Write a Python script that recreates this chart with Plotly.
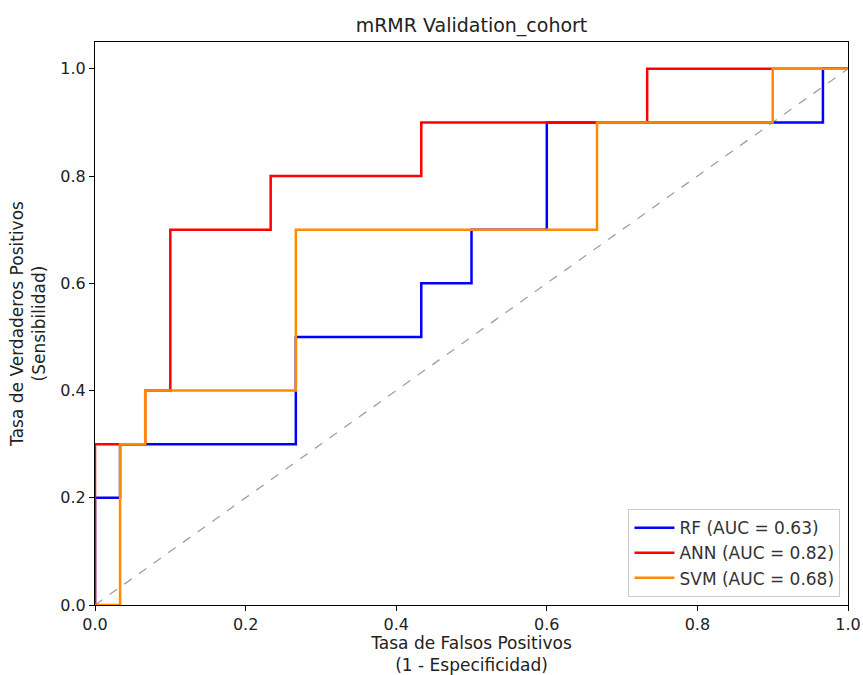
import plotly.graph_objects as go

# ROC step curves (FPR, TPR)
rf_fpr = [0, 0, 0.0333, 0.0333, 0.2667, 0.2667, 0.4333, 0.4333, 0.5, 0.5, 0.6, 0.6, 0.9667, 0.9667, 1.0]
rf_tpr = [0, 0.2, 0.2, 0.3, 0.3, 0.5, 0.5, 0.6, 0.6, 0.7, 0.7, 0.9, 0.9, 1.0, 1.0]

ann_fpr = [0, 0, 0.0667, 0.0667, 0.1, 0.1, 0.2333, 0.2333, 0.4333, 0.4333, 0.7333, 0.7333, 1.0]
ann_tpr = [0, 0.3, 0.3, 0.4, 0.4, 0.7, 0.7, 0.8, 0.8, 0.9, 0.9, 1.0, 1.0]

svm_fpr = [0, 0.0333, 0.0333, 0.0667, 0.0667, 0.2667, 0.2667, 0.6667, 0.6667, 0.9, 0.9, 1.0]
svm_tpr = [0, 0, 0.3, 0.3, 0.4, 0.4, 0.7, 0.7, 0.9, 0.9, 1.0, 1.0]

names = ["RF (AUC = 0.63)", "ANN (AUC = 0.82)", "SVM (AUC = 0.68)"]
colors = ["#0000ff", "#ff0000", "#ff8c00"]
diag = [0, 1]

FONT = "DejaVu Sans"
fig = go.Figure()
fig.add_trace(go.Scatter(x=diag, y=diag, mode="lines", showlegend=False,
                         line=dict(color="#a0a0a0", width=1.3, dash="dash"), hoverinfo="skip"))
for xs, ys, n, c in zip([rf_fpr, ann_fpr, svm_fpr], [rf_tpr, ann_tpr, svm_tpr], names, colors):
    fig.add_trace(go.Scatter(x=xs, y=ys, mode="lines", name=n, line=dict(color=c, width=2.5)))

axis_common = dict(showline=True, linecolor="black", linewidth=1, mirror=True,
                   showgrid=False, zeroline=False, ticks="outside", ticklen=5,
                   tickcolor="black", tickfont=dict(size=16, color="#222", family=FONT),
                   automargin=False)
fig.update_xaxes(range=[0, 1], tickvals=[0, 0.2, 0.4, 0.6, 0.8, 1.0],
                 ticktext=["0.0", "0.2", "0.4", "0.6", "0.8", "1.0"],
                 title=dict(text="Tasa de Falsos Positivos<br>(1 - Especificidad)",
                            font=dict(size=17, color="#222", family=FONT), standoff=2),
                 **axis_common)
fig.update_yaxes(range=[0, 1.05], tickvals=[0, 0.2, 0.4, 0.6, 0.8, 1.0],
                 ticktext=["0.0", "0.2", "0.4", "0.6", "0.8", "1.0"],
                 title=dict(text="Tasa de Verdaderos Positivos<br>(Sensibilidad)",
                            font=dict(size=17, color="#222", family=FONT), standoff=10),
                 **axis_common)
fig.update_layout(
    width=863, height=675,
    margin=dict(l=95, r=15, t=42, b=70),
    paper_bgcolor="white", plot_bgcolor="white",
    title=dict(text="mRMR Validation_cohort", x=0.5, xref="paper", y=0.962,
               yanchor="middle", font=dict(size=19, color="#222", family=FONT)),
    legend=dict(x=0.99, y=0.014, xanchor="right", yanchor="bottom",
                bordercolor="#cccccc", borderwidth=1, bgcolor="white",
                font=dict(size=17, color="#333", family=FONT), tracegroupgap=2,
                itemwidth=40),
    showlegend=True,
)
fig.write_html("out.html")
